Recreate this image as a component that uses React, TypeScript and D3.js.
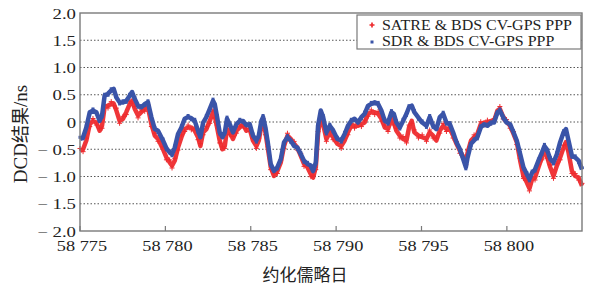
import React from "react";
import * as d3 from "d3";

const days: number[] = [
  0.0, 0.18, 0.37, 0.57, 0.76, 0.96, 1.15, 1.29, 1.44, 1.64, 1.83, 1.97, 2.13, 2.32, 2.52, 2.71, 2.91, 3.05, 3.21, 3.4,
  3.59, 3.79, 3.98, 4.18, 4.38, 4.57, 4.86, 5.06, 5.25, 5.39, 5.55, 5.74, 5.94, 6.13, 6.33, 6.52, 6.72, 6.91, 7.05, 7.21,
  7.4, 7.6, 7.79, 7.89, 8.03, 8.18, 8.34, 8.48, 8.61, 8.77, 8.96, 9.16, 9.36, 9.55, 9.74, 9.94, 10.13, 10.33, 10.47, 10.62,
  10.72, 10.86, 11.01, 11.17, 11.36, 11.56, 11.76, 11.95, 12.15, 12.34, 12.54, 12.73, 12.93, 13.12, 13.32, 13.52, 13.65, 13.81, 13.94, 14.1,
  14.24, 14.43, 14.63, 14.82, 15.07, 15.3, 15.5, 15.69, 15.89, 16.08, 16.28, 16.48, 16.67, 16.87, 17.06, 17.26, 17.46, 17.65, 17.85, 18.04,
  18.24, 18.38, 18.53, 18.73, 18.92, 19.12, 19.27, 19.43, 19.58, 19.82, 20.04, 20.29, 20.48, 20.68, 20.87, 21.07, 21.27, 21.46, 21.66, 21.85,
  22.05, 22.25, 22.44, 22.6, 22.7, 22.9, 23.08, 23.27, 23.47, 23.67, 23.86, 24.06, 24.25, 24.45, 24.59, 24.78, 24.98, 25.19, 25.39, 25.58,
  25.78, 25.97, 26.17, 26.32, 26.48, 26.65, 26.85, 27.05, 27.2, 27.34, 27.54, 27.73, 27.93, 28.12, 28.32, 28.46, 28.61, 28.81, 29.0, 29.2,
  29.4,
];
const mjd: number[] = days.map((d) => 58775 + d);

const satre: number[] = [
  -0.53, -0.5, -0.34, -0.04, 0.02, -0.01, -0.16, -0.07, 0.27, 0.3, 0.33, 0.34, 0.21, 0.02, 0.06, 0.18, 0.33, 0.39, 0.24, 0.12,
  0.18, 0.24, 0.27, -0.04, -0.25, -0.31, -0.5, -0.65, -0.74, -0.8, -0.71, -0.47, -0.28, -0.13, -0.1, -0.1, -0.16, -0.28, -0.44, -0.19,
  -0.13, 0.02, 0.18, 0.12, -0.1, -0.34, -0.5, -0.44, -0.13, -0.19, -0.31, -0.16, -0.1, -0.04, -0.16, -0.13, -0.34, -0.44, -0.34, -0.07,
  0.02, -0.19, -0.5, -0.83, -0.99, -0.9, -0.74, -0.44, -0.25, -0.31, -0.4, -0.47, -0.62, -0.77, -0.83, -0.96, -1.02, -0.83, -0.22, 0.12,
  -0.04, -0.31, -0.19, -0.28, -0.4, -0.44, -0.34, -0.19, -0.07, -0.07, -0.07, -0.04, -0.01, 0.15, 0.18, 0.18, 0.15, 0.06, -0.1, -0.13,
  0.06, -0.01, -0.16, -0.25, -0.31, -0.34, -0.1, 0.02, -0.19, -0.25, -0.28, -0.31, -0.19, -0.25, -0.34, -0.16, -0.07, -0.13, -0.13, -0.25,
  -0.4, -0.53, -0.65, -0.74, -0.56, -0.34, -0.28, -0.22, -0.04, -0.01, -0.01, 0.02, 0.02, 0.21, 0.24, 0.1, 0.0, -0.07, -0.22, -0.37,
  -0.71, -0.99, -1.11, -1.22, -1.05, -1.02, -0.83, -0.65, -0.53, -0.62, -0.83, -0.99, -0.8, -0.65, -0.47, -0.37, -0.56, -0.9, -0.99, -1.02,
  -1.17,
];

const sdr: number[] = [
  -0.31, -0.28, -0.1, 0.18, 0.21, 0.18, 0.02, 0.12, 0.48, 0.52, 0.58, 0.61, 0.45, 0.36, 0.36, 0.39, 0.48, 0.55, 0.42, 0.3,
  0.27, 0.33, 0.36, 0.09, -0.13, -0.16, -0.34, -0.48, -0.56, -0.59, -0.47, -0.22, -0.1, 0.06, 0.09, 0.07, 0.02, -0.16, -0.28, -0.01,
  0.09, 0.24, 0.39, 0.33, 0.09, -0.19, -0.28, -0.19, 0.06, -0.04, -0.19, -0.04, 0.02, 0.02, -0.06, -0.04, -0.25, -0.34, -0.25, 0.02,
  0.09, -0.1, -0.4, -0.77, -0.9, -0.83, -0.68, -0.37, -0.28, -0.34, -0.44, -0.47, -0.59, -0.71, -0.77, -0.8, -0.9, -0.74, -0.07, 0.21,
  0.09, -0.19, -0.07, -0.15, -0.31, -0.34, -0.22, -0.07, 0.02, 0.06, -0.01, 0.09, 0.15, 0.3, 0.33, 0.36, 0.33, 0.21, 0.02, -0.01,
  0.18, 0.15, -0.01, -0.1, 0.02, 0.15, 0.27, 0.3, 0.18, 0.08, -0.01, -0.07, 0.09, -0.07, -0.13, 0.09, 0.15, -0.01, -0.04, -0.19,
  -0.37, -0.5, -0.68, -0.83, -0.65, -0.4, -0.34, -0.28, -0.1, -0.04, -0.07, -0.01, -0.01, 0.18, 0.21, 0.09, -0.01, -0.04, -0.19, -0.34,
  -0.59, -0.83, -0.96, -1.05, -0.93, -0.87, -0.71, -0.56, -0.44, -0.5, -0.68, -0.74, -0.59, -0.37, -0.19, -0.13, -0.34, -0.62, -0.65, -0.71,
  -0.87,
];

const xTicks: number[] = [58775, 58780, 58785, 58790, 58795, 58800];
const yTicks: number[] = [-2.0, -1.5, -1.0, -0.5, 0, 0.5, 1.0, 1.5, 2.0];
const seriesNames: string[] = ["SATRE & BDS CV-GPS PPP", "SDR & BDS CV-GPS PPP"];
const xTitle = "约化儒略日";
const yTitleParts: string[] = ["DCD", "结果", "/ns"];

const W = 590;
const H = 288;
const M = { left: 80, right: 8, top: 13, bottom: 58 };
const RED = "#ee2b2e";
const BLUE = "#3a54a8";
const SERIF = "Liberation Serif, Times New Roman, DejaVu Serif, serif";
const CJK = "Noto Sans CJK SC, Noto Sans, sans-serif";

function fmtX(v: number): string {
  const s = String(v);
  return s.slice(0, 2) + " " + s.slice(2);
}
function fmtY(v: number): string {
  const s = Math.abs(v) < 1e-9 ? "0" : Math.abs(v).toFixed(1);
  return v < -1e-9 ? "\u2212 " + s : s;
}

export default function App() {
  const x = d3.scaleLinear().domain([58775, 58804.4]).range([M.left, W - M.right]);
  const y = d3.scaleLinear().domain([-2, 2]).range([H - M.bottom + 1, M.top]);
  const idx = d3.range(mjd.length);
  const line = (vals: number[]) =>
    d3
      .line<number>()
      .x((i) => x(mjd[i]))
      .y((i) => y(vals[i]))
      .curve(d3.curveLinear)(idx) || "";

  const x0 = x.range()[0];
  const x1 = x.range()[1];
  const y0 = y.range()[0];
  const y1 = y.range()[1];
  const plus = d3.symbol(d3.symbolCross, 14)() || "";
  const serif = { fontFamily: SERIF };
  const cjk = { fontFamily: CJK };

  return (
    <svg width={W} height={H} style={{ display: "block", position: "absolute", left: 0, top: 0, background: "#fff" }}>
      {yTicks
        .filter((t) => t > -2 && t < 2)
        .map((t) => (
          <line key={"g" + t} x1={x0} x2={x1} y1={y(t)} y2={y(t)} stroke="#555" strokeWidth={1} strokeDasharray="1.5,2" />
        ))}
      <path d={line(satre)} fill="none" stroke={RED} strokeWidth={4.5} strokeLinejoin="round" opacity={0.95} />
      {idx.map((i) => (
        <g key={"r" + i} transform={`translate(${x(mjd[i])},${y(satre[i]) + (i % 2 ? 2.4 : -2.4)})`}>
          <line x1={-2.5} x2={2.5} y1={0} y2={0} stroke={RED} strokeWidth={1} />
          <line x1={0} x2={0} y1={-2.5} y2={2.5} stroke={RED} strokeWidth={1} />
        </g>
      ))}
      <path d={line(sdr)} fill="none" stroke={BLUE} strokeWidth={4.5} strokeLinejoin="round" />
      {idx.map((i) => (
        <rect
          key={"b" + i}
          x={x(mjd[i]) - 1.5}
          y={y(sdr[i]) + (i % 2 ? 1.6 : -1.6) - 1.5}
          width={3}
          height={3}
          fill={BLUE}
        />
      ))}
      <rect x={x0} y={y1} width={x1 - x0} height={y0 - y1} fill="none" stroke="#7a7a7a" strokeWidth={1.4} />
      {xTicks.map((t) => (
        <line key={"xt" + t} x1={x(t)} x2={x(t)} y1={y0} y2={y0 - 5} stroke="#7a7a7a" strokeWidth={1.2} />
      ))}
      {xTicks.map((t) => (
        <text
          key={"xl" + t}
          transform={`translate(${x(t) + 2},${y0 + 20}) scale(1.22,1)`}
          textAnchor="middle"
          style={serif}
          fontSize={15}
          fill="#222"
        >
          {fmtX(t)}
        </text>
      ))}
      {yTicks.map((t) => (
        <text
          key={"yl" + t}
          transform={`translate(${x0 - 4},${y(t) + 5.5}) scale(1.25,1)`}
          textAnchor="end"
          style={serif}
          fontSize={15}
          fill="#222"
        >
          {fmtY(t)}
        </text>
      ))}
      <text x={305} y={281} textAnchor="middle" style={cjk} fontSize={17} fill="#222">
        {xTitle}
      </text>
      <text transform={`translate(27,134) rotate(-90)`} textAnchor="middle" style={serif} fontSize={19} fill="#222">
        <tspan>{yTitleParts[0]}</tspan>
        <tspan style={cjk} fontSize={18}>
          {yTitleParts[1]}
        </tspan>
        <tspan>{yTitleParts[2]}</tspan>
      </text>
      <g>
        <rect x={357} y={15} width={224} height={34} fill="#fff" stroke="#7a7a7a" strokeWidth={1.2} />
        <path d={plus} transform="translate(372,25)" fill={RED} />
        <rect x={370.5} y={40.5} width={3} height={3} fill={BLUE} />
        {seriesNames.map((n, i) => (
          <text
            key={n}
            transform={`translate(382,${30 + i * 16}) scale(1.14,1)`}
            style={serif}
            fontSize={14}
            fill="#222"
          >
            {n}
          </text>
        ))}
      </g>
    </svg>
  );
}
